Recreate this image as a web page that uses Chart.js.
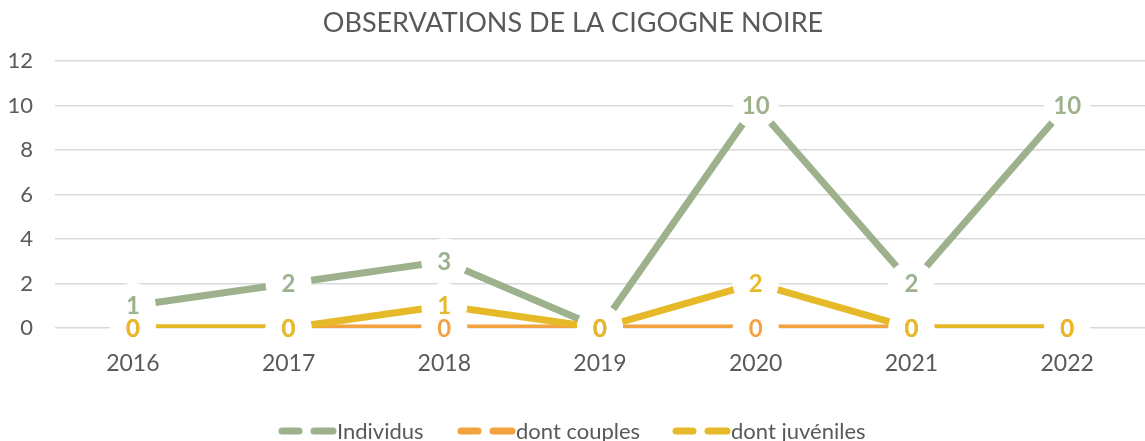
<!DOCTYPE html>
<html><head><meta charset="utf-8">
<script src="https://cdn.jsdelivr.net/npm/chart.js@4"></script>
<style>html,body{margin:0;padding:0;background:#fff}#wrap{width:1145px;height:441px}</style>
</head><body><div id="wrap"><canvas id="c" width="1145" height="441"></canvas></div>
<script>
const years = ['2016','2017','2018','2019','2020','2021','2022'];
const individus = [1,2,3,0,10,2,10];
const couples = [0,0,0,0,0,0,0];
const juveniles = [0,0,1,0,2,0,0];
const yTicks = [0,2,4,6,8,10,12];
const seriesNames = ['Individus','dont couples','dont juvéniles'];
const colors = ['#9DB28C','#F2A23F','#E6B928'];
const FONT = 'Lato, "Open Sans", sans-serif';

const labelPlugin = {
  id:'labels',
  afterDatasetsDraw(chart){
    const ctx = chart.ctx;
    ctx.save();
    ctx.fillStyle = '#fff';
    chart.data.datasets.forEach((ds,i)=>{
      chart.getDatasetMeta(i).data.forEach(pt=>{
        ctx.beginPath(); ctx.arc(pt.x,pt.y,23,0,Math.PI*2); ctx.fill();
      });
    });
    ctx.font = 'bold 24px '+FONT;
    ctx.textAlign='center'; ctx.textBaseline='middle';
    chart.data.datasets.forEach((ds,i)=>{
      ctx.fillStyle = colors[i];
      chart.getDatasetMeta(i).data.forEach((pt,j)=>{
        ctx.fillText(String(ds.data[j]), pt.x, pt.y+1);
      });
    });
    ctx.restore();
  },
  afterDraw(chart){
    const ctx = chart.ctx;
    ctx.save();
    ctx.fillStyle='#595959';
    ctx.font = '27px '+FONT;
    ctx.textAlign='center'; ctx.textBaseline='middle';
    ctx.fillText('OBSERVATIONS DE LA CIGOGNE NOIRE', 573, 23);
    // legend
    ctx.font = '22px '+FONT;
    ctx.textAlign='left';
    const starts=[279,458,673];
    const y=431;
    seriesNames.forEach((n,i)=>{
      const x=starts[i];
      ctx.strokeStyle=colors[i]; ctx.lineWidth=7; ctx.lineCap='round';
      ctx.beginPath(); ctx.moveTo(x+3,y); ctx.lineTo(x+20,y); ctx.stroke();
      ctx.beginPath(); ctx.moveTo(x+35,y); ctx.lineTo(x+54,y); ctx.stroke();
      ctx.fillStyle='#595959';
      ctx.fillText(n, x+58, y+1);
    });
    ctx.restore();
  }
};

const mk=(label,data,i,order)=>({label,data,order,borderColor:colors[i],backgroundColor:colors[i],borderWidth:7,pointRadius:0,tension:0,borderCapStyle:'butt'});

new Chart(document.getElementById('c'),{
  type:'line',
  data:{labels:years,datasets:[mk(seriesNames[0],individus,0,2),mk(seriesNames[1],couples,1,1),mk(seriesNames[2],juveniles,2,0)]},
  options:{
    responsive:false,animation:false,
    layout:{padding:{top:61,left:0,right:0,bottom:0}},
    plugins:{legend:{display:false},title:{display:false},tooltip:{enabled:false}},
    scales:{
      x:{offset:true,grid:{display:false,drawTicks:false},border:{display:false},
        ticks:{color:'#595959',font:{family:FONT,size:23},padding:22},
        afterFit(s){s.height=113;}},
      y:{min:0,max:12,afterBuildTicks(s){s.ticks=yTicks.map(v=>({value:v}));},
        grid:{color:'#D9D9D9',lineWidth:1.5,drawTicks:false},border:{display:false},
        ticks:{color:'#595959',font:{family:FONT,size:22},padding:22},
        afterFit(s){s.width=55;}}
    }
  },
  plugins:[labelPlugin]
});
</script></body></html>
